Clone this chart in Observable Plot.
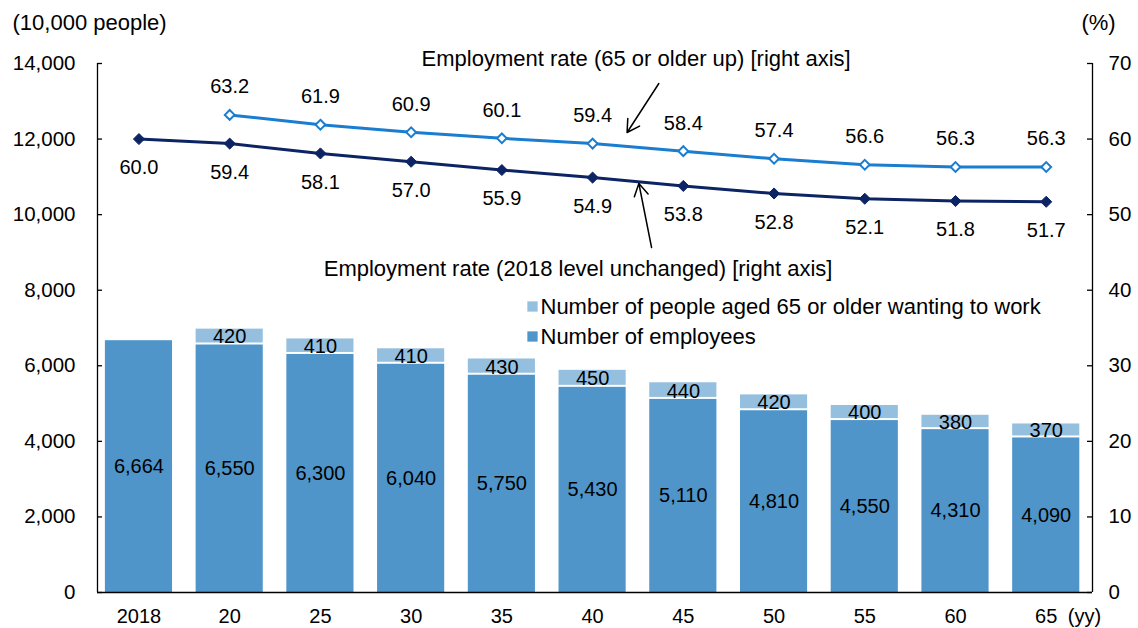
<!DOCTYPE html>
<html>
<head>
<meta charset="utf-8">
<script src="https://cdn.jsdelivr.net/npm/d3@7"></script>
<script src="https://cdn.jsdelivr.net/npm/@observablehq/plot@0.6"></script>
<style>
  html, body { margin: 0; padding: 0; background: #fff; }
  #chart { width: 1138px; height: 628px; }
</style>
</head>
<body>
<div id="chart"></div>
<script>
// ---- data ----
const years = ["2018", "20", "25", "30", "35", "40", "45", "50", "55", "60", "65"];
const employees = [6664, 6550, 6300, 6040, 5750, 5430, 5110, 4810, 4550, 4310, 4090];
const wanting = [null, 420, 410, 410, 430, 450, 440, 420, 400, 380, 370];
const rateUnchanged = [60.0, 59.4, 58.1, 57.0, 55.9, 54.9, 53.8, 52.8, 52.1, 51.8, 51.7];
const rateUp = [null, 63.2, 61.9, 60.9, 60.1, 59.4, 58.4, 57.4, 56.6, 56.3, 56.3];
const leftTicks = [0, 2000, 4000, 6000, 8000, 10000, 12000, 14000];
const rightTicks = [0, 10, 20, 30, 40, 50, 60, 70];
const legendLabels = ["Number of people aged 65 or older wanting to work", "Number of employees"];
const annotationUp = "Employment rate (65 or older up) [right axis]";
const annotationUnchanged = "Employment rate (2018 level unchanged) [right axis]";

// ---- style ----
const empColor = "#4f95c9";
const wantColor = "#95bfdf";
const upColor = "#1a7dd0";
const navy = "#0c2463";
const K = 14000 / 70; // right-axis (%) to left-axis units

const rows = years.map((yr, i) => ({
  i, yr,
  emp: employees[i],
  want: wanting[i],
  u: rateUnchanged[i],
  up: rateUp[i]
}));
const upRows = rows.filter(d => d.up != null);
const wantRows = rows.filter(d => d.want != null);
const fmt = d3.format(",");

const chart = Plot.plot({
  width: 1138,
  height: 628,
  marginLeft: 97,
  marginRight: 46,
  marginTop: 63,
  marginBottom: 36,
  style: { fontFamily: "'Liberation Sans', Arial, sans-serif", fontSize: "20px", color: "#000", background: "#fff" },
  x: { type: "linear", domain: [-0.457, 10.51] },
  y: { domain: [0, 14000] },
  marks: [
    // bars
    Plot.rectY(rows, { x1: d => d.i - 0.37, x2: d => d.i + 0.37, y1: 0, y2: d => d.emp, fill: empColor }),
    Plot.rectY(wantRows, { x1: d => d.i - 0.37, x2: d => d.i + 0.37, y1: d => d.emp, y2: d => d.emp + d.want, fill: wantColor, insetBottom: 2 }),
    Plot.text(rows, { x: "i", y: d => d.emp / 2, text: d => fmt(d.emp), fill: "#000" }),
    Plot.text(wantRows, { x: "i", y: d => d.emp + d.want / 2, text: d => fmt(d.want), fill: "#000" }),

    // frame
    Plot.ruleX([-0.457, 10.51], { stroke: "#000", strokeWidth: 1.3 }),
    Plot.ruleY([0], { stroke: "#000", strokeWidth: 1.3 }),
    Plot.tickY(leftTicks, { insetRight: 990, stroke: "#000", strokeWidth: 1.3 }),
    Plot.tickY(leftTicks, { insetLeft: 990, stroke: "#000", strokeWidth: 1.3 }),

    // axes
    Plot.axisY({ anchor: "left", ticks: leftTicks, tickFormat: fmt, tickSize: 0, tickPadding: 22, label: null, fontSize: 20.5 }),
    Plot.axisY({ anchor: "right", ticks: rightTicks.map(r => r * K), tickFormat: d => String(d / K), tickSize: 0, tickPadding: 16, label: null, fontSize: 20.5 }),
    Plot.axisX({ ticks: years.map((_, i) => i), tickFormat: i => years[i], tickSize: 0, tickPadding: 16, label: null, fontSize: 20 }),

    // lines
    Plot.line(rows, { x: "i", y: d => d.u * K, stroke: navy, strokeWidth: 3 }),
    Plot.dot(rows, { x: "i", y: d => d.u * K, symbol: "diamond2", r: 5, fill: navy, stroke: navy, strokeWidth: 1 }),
    Plot.line(upRows, { x: "i", y: d => d.up * K, stroke: upColor, strokeWidth: 3 }),
    Plot.dot(upRows, { x: "i", y: d => d.up * K, symbol: "diamond2", r: 4.4, fill: "#fff", stroke: upColor, strokeWidth: 2 }),
    Plot.text(rows, { x: "i", y: d => d.u * K, text: d => d.u.toFixed(1), dy: 29, fill: "#000" }),
    Plot.text(upRows, { x: "i", y: d => d.up * K, text: d => d.up.toFixed(1), dy: -28, fill: "#000" }),

    // annotations
    Plot.text([annotationUp], { x: 5.48, y: 70.66 * K, text: d => d, fill: "#000", fontSize: 22 }),
    Plot.arrow([0], { x1: 5.73, y1: 67.35 * K, x2: 5.38, y2: 60.87 * K, stroke: "#000", strokeWidth: 1.5, headLength: 14 }),
    Plot.text([annotationUnchanged], { x: 4.84, y: 42.87 * K, text: d => d, fill: "#000", fontSize: 22 }),
    Plot.arrow([0], { x1: 5.65, y1: 45.65 * K, x2: 5.51, y2: 54.12 * K, stroke: "#000", strokeWidth: 1.5, headLength: 14 }),

    // legend
    Plot.dot([0], { frameAnchor: "top-left", dx: 435, dy: 243, symbol: "square", r: 5.8, fill: wantColor }),
    Plot.dot([0], { frameAnchor: "top-left", dx: 435, dy: 273, symbol: "square", r: 5.8, fill: empColor }),
    Plot.text([legendLabels[0]], { frameAnchor: "top-left", dx: 443, dy: 243, text: d => d, textAnchor: "start", lineAnchor: "middle", fill: "#000", fontSize: 22 }),
    Plot.text([legendLabels[1]], { frameAnchor: "top-left", dx: 443, dy: 273, text: d => d, textAnchor: "start", lineAnchor: "middle", fill: "#000", fontSize: 22 }),

    // axis titles
    Plot.text(["(10,000 people)"], { frameAnchor: "top-left", dx: -85, dy: -41, text: d => d, textAnchor: "start", lineAnchor: "middle", fill: "#000", fontSize: 22 }),
    Plot.text(["(%)"], { frameAnchor: "top-right", dx: 6, dy: -41, text: d => d, textAnchor: "middle", lineAnchor: "middle", fill: "#000", fontSize: 22 }),
    Plot.text(["(yy)"], { frameAnchor: "bottom-right", dx: -8, dy: 24, text: d => d, textAnchor: "middle", lineAnchor: "middle", fill: "#000", fontSize: 20 })
  ]
});

document.getElementById("chart").appendChild(chart);
</script>
</body>
</html>
